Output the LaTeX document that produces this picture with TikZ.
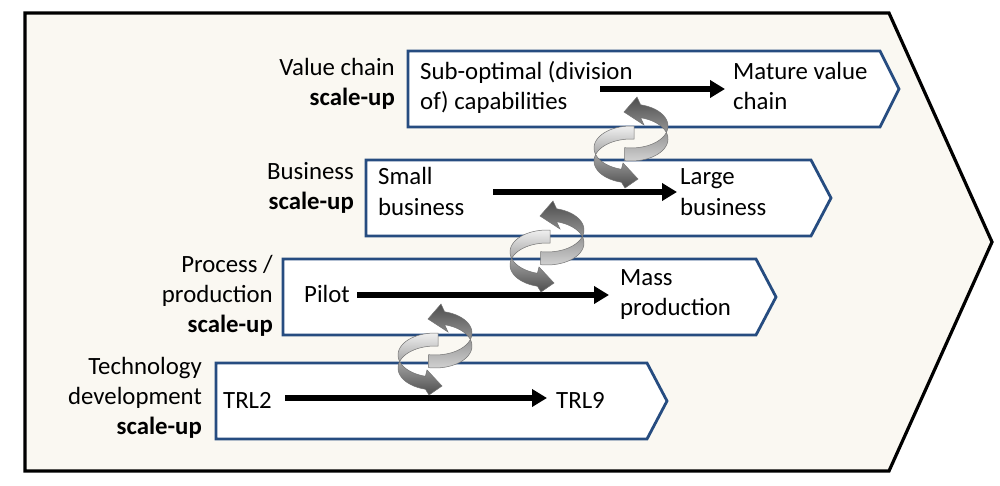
\documentclass[tikz,border=0pt]{standalone}
\usepackage{fontspec}
\setmainfont{Carlito}
\usetikzlibrary{arrows.meta}
\definecolor{bgbeige}{RGB}{250,248,242}
\definecolor{boxblue}{RGB}{38,76,128}
\newcommand{\cyclepair}[2]{%
  \begin{scope}[shift={(#1,#2)}]
    \draw[cyc, top color=black!70, bottom color=black!18]
      (6,-44) -- (-7,-29) -- (13,-16) -- (9.6,-23.3)
      -- plot[domain=-75:100, samples=40, variable=\t] ({37*cos(\t)},{-2+22*sin(\t)})
      -- plot[domain=100:-75, samples=40, variable=\t] ({37*cos(\t)},{-15+22*sin(\t)})
      -- cycle;
    \draw[cyc, top color=black!6, bottom color=black!70]
      (-8,22) -- (7,38) -- (-6,47) -- (-9.6,41.2)
      -- plot[domain=-255:-85, samples=40, variable=\t] ({37*cos(\t)},{20+22*sin(\t)})
      -- plot[domain=-85:-255, samples=40, variable=\t] ({37*cos(\t)},{7+22*sin(\t)})
      -- cycle;
  \end{scope}}
\begin{document}
\begin{tikzpicture}[x=1pt,y=-1pt,
  outer/.style={draw=black, line width=3.2pt, fill=bgbeige, line join=miter},
  chev/.style={draw=boxblue, line width=2.8pt, fill=white, line join=miter},
  lbl/.style={font=\fontsize{24.8}{30}\selectfont, align=right, anchor=base east, inner sep=0pt},
  txt/.style={font=\fontsize{24.8}{30}\selectfont, align=left, anchor=base west, inner sep=0pt},
  flow/.style={line width=5.5pt, -{Triangle[length=15pt,width=17pt]}},
  cyc/.style={draw=black!55, line width=0.5pt}
]
\useasboundingbox (0,0) rectangle (1000,486);
\draw[outer] (25,13) -- (889,13) -- (992,242) -- (889,471) -- (25,471) -- cycle;

\draw[chev] (408,51) -- (880,51) -- (899,89) -- (880,127) -- (408,127) -- cycle;
\draw[chev] (366,160) -- (811,160) -- (831,198) -- (811,236) -- (366,236) -- cycle;
\draw[chev] (283,259) -- (756,259) -- (776,297) -- (756,335) -- (283,335) -- cycle;
\draw[chev] (216,363) -- (647,363) -- (667,401) -- (647,439) -- (216,439) -- cycle;

% base anchor of a multi-line node = baseline of its last line
\node[lbl] (l1) at (395,106) {Value chain\\\textbf{scale-up}};
\node[lbl] (l2) at (354,210) {Business\\\textbf{scale-up}};
\node[lbl] (l3) at (273,332) {Process /\\production\\\textbf{scale-up}};
\node[lbl] (l4) at (202,434) {Technology\\development\\\textbf{scale-up}};

\node[txt] (t1a) at (420,110) {Sub-optimal (division\\of) capabilities};
\node[txt] (t1b) at (733,110) {Mature value\\chain};
\node[txt] (t2a) at (378,215) {Small\\business};
\node[txt] (t2b) at (680,215) {Large\\business};
\node[txt] (t3a) at (304,302) {Pilot};
\node[txt] (t3b) at (620,315) {Mass\\production};
\node[txt] (t4a) at (223,408) {TRL2};
\node[txt] (t4b) at (556,408) {TRL9};

\coordinate (a1s) at (600,89);  \coordinate (a1e) at (725,89);
\coordinate (a2s) at (493,192); \coordinate (a2e) at (677,192);
\coordinate (a3s) at (357,295); \coordinate (a3e) at (609,295);
\coordinate (a4s) at (285,398); \coordinate (a4e) at (547,398);
\draw[flow] (a1s) -- (a1e);
\draw[flow] (a2s) -- (a2e);
\draw[flow] (a3s) -- (a3e);
\draw[flow] (a4s) -- (a4e);

\cyclepair{631}{141}
\cyclepair{547}{245}
\cyclepair{435}{348}
\end{tikzpicture}
\end{document}
